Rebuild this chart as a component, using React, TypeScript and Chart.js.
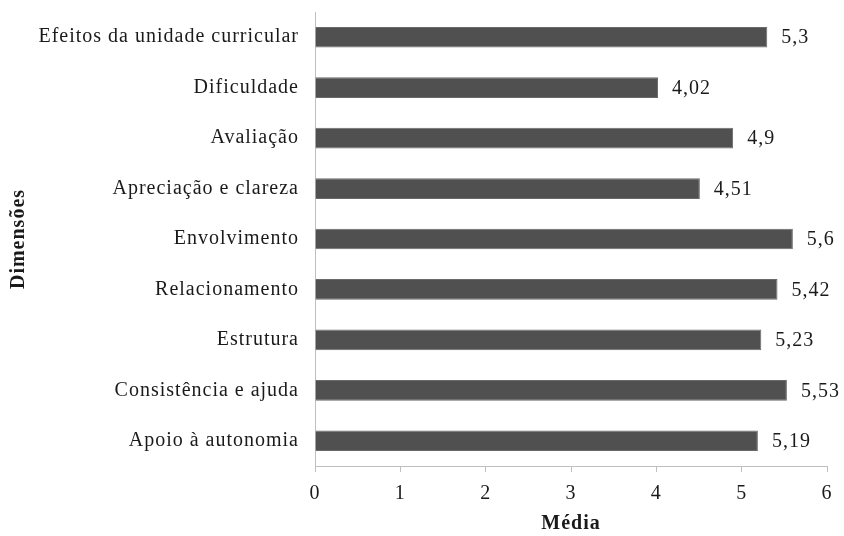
import React, { useEffect, useRef } from "react";
import { Chart, registerables } from "chart.js";

Chart.register(...registerables);

const categories = [
  "Efeitos da unidade curricular",
  "Dificuldade",
  "Avaliação",
  "Apreciação e clareza",
  "Envolvimento",
  "Relacionamento",
  "Estrutura",
  "Consistência e ajuda",
  "Apoio à autonomia",
];
const medias = [5.3, 4.02, 4.9, 4.51, 5.6, 5.42, 5.23, 5.53, 5.19];
const xTitle = "Média";
const yTitle = "Dimensões";

const FONT = "'Liberation Serif', 'Times New Roman', serif";
const FS = 20;
const TEXT = "#1a1a1a";
const AXIS = "#bfbfbf";

const spacingPlugin = {
  id: "spacing",
  beforeDraw(chart: any) {
    (chart.ctx as any).letterSpacing = "1px";
  },
};

const valueLabels = {
  id: "valueLabels",
  afterDatasetsDraw(chart: any) {
    const ctx = chart.ctx;
    const meta = chart.getDatasetMeta(0);
    ctx.save();
    ctx.font = `${FS}px ${FONT}`;
    ctx.fillStyle = TEXT;
    ctx.textAlign = "left";
    ctx.textBaseline = "middle";
    meta.data.forEach((bar: any, i: number) => {
      const v = chart.data.datasets[0].data[i];
      ctx.fillText(String(v).replace(".", ","), bar.x + 14, bar.y + 1);
    });
    ctx.restore();
  },
};

export default function App() {
  const ref = useRef<HTMLCanvasElement>(null);
  useEffect(() => {
    document.body.style.margin = "0";
    const chart = new Chart(ref.current!, {
      type: "bar",
      data: {
        labels: categories,
        datasets: [
          {
            data: medias,
            backgroundColor: "#505050",
            borderColor: "#6a6a6a",
            borderWidth: 1,
            barPercentage: 0.41,
            categoryPercentage: 1,
          },
        ],
      },
      options: {
        indexAxis: "y",
        animation: false,
        responsive: true,
        maintainAspectRatio: false,
        layout: { padding: { top: 12, right: 17, left: 0, bottom: 0 } },
        plugins: {
          legend: { display: false },
          tooltip: { enabled: false },
        },
        scales: {
          x: {
            type: "linear",
            min: 0,
            max: 6,
            ticks: {
              stepSize: 1,
              color: TEXT,
              font: { family: FONT, size: FS },
              padding: 10,
            },
            grid: {
              drawOnChartArea: false,
              drawTicks: true,
              tickLength: 6,
              color: AXIS,
            },
            border: { display: true, color: AXIS },
            title: {
              display: true,
              text: xTitle,
              color: TEXT,
              font: { family: FONT, size: FS, weight: "bold" },
              padding: { top: 0, bottom: 0 },
            },
            afterFit(scale: any) {
              scale.height = 70;
            },
          },
          y: {
            ticks: {
              color: TEXT,
              font: { family: FONT, size: FS },
              padding: 16,
            },
            grid: { display: false, drawTicks: false },
            border: { display: true, color: AXIS },
            title: {
              display: true,
              text: yTitle,
              color: TEXT,
              font: { family: FONT, size: FS, weight: "bold" },
              padding: { top: 7, bottom: 0 },
            },
            afterFit(scale: any) {
              scale.width = 315;
              scale.paddingTop = 0;
              scale.paddingBottom = 0;
            },
          },
        },
      } as any,
      plugins: [spacingPlugin, valueLabels],
    });
    return () => chart.destroy();
  }, []);
  return (
    <div style={{ width: 844, height: 536, position: "relative" }}>
      <canvas ref={ref} />
    </div>
  );
}
